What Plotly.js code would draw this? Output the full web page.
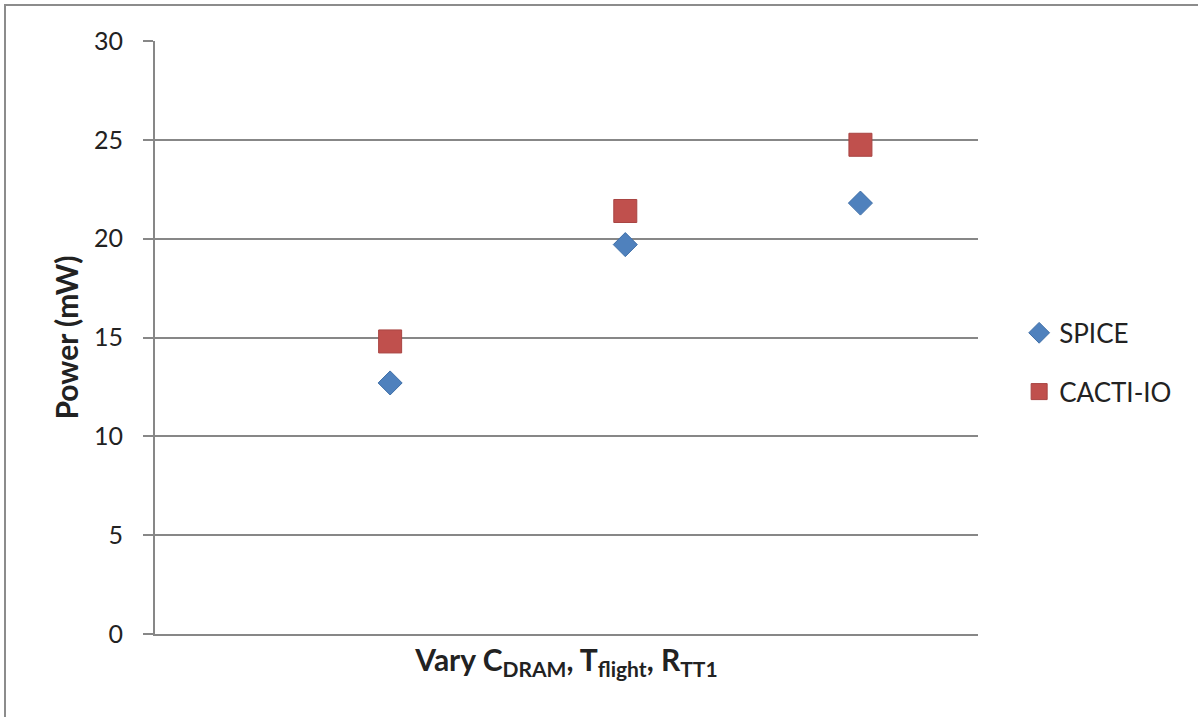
<!DOCTYPE html>
<html>
<head>
<meta charset="utf-8">
<script src="https://cdn.plot.ly/plotly-3.0.1.min.js"></script>
<style>
  html, body { margin: 0; padding: 0; background: #fff; }
  #wrap { position: relative; width: 1198px; height: 717px; overflow: hidden; }
  #chart { width: 1198px; height: 717px; }
  #frame { position: absolute; left: 4px; top: 4px; width: 1300px; height: 800px;
           border-top: 2px solid #8c8c8c; border-left: 2px solid #8c8c8c; pointer-events: none; }
</style>
</head>
<body>
<div id="wrap">
  <div id="chart"></div>
  <div id="frame"></div>
</div>
<script>
const categories = [1, 2, 3];
const seriesNames = ["SPICE", "CACTI-IO"];
const spiceValues = [12.7, 19.7, 21.8];
const cactiValues = [14.8, 21.4, 24.75];
const yTickValues = [0, 5, 10, 15, 20, 25, 30];

const fontFamily = "Lato, 'Open Sans', sans-serif";

const traces = [
  {
    x: categories, y: spiceValues, name: seriesNames[0], type: "scatter", mode: "markers",
    legendgroup: "a",
    marker: { symbol: "diamond", size: 18.5, color: "#4F81BD", line: { color: "#3f6fa8", width: 1 } }
  },
  {
    x: categories, y: cactiValues, name: seriesNames[1], type: "scatter", mode: "markers",
    legendgroup: "b",
    marker: { symbol: "square", size: 23, color: "#C0504D", line: { color: "#a84442", width: 1 } }
  }
];

const layout = {
  width: 1198, height: 717,
  margin: { l: 155, r: 220, t: 41, b: 83, pad: 0 },
  paper_bgcolor: "#ffffff", plot_bgcolor: "#ffffff",
  font: { family: fontFamily, size: 24, color: "#222" },
  showlegend: true,
  legend: {
    x: 1.05, y: 0.458, xanchor: "left", yanchor: "middle",
    traceorder: "grouped", tracegroupgap: 22,
    font: { family: fontFamily, size: 26, color: "#222" },
    itemwidth: 30
  },
  xaxis: {
    range: [0, 3.5], showgrid: false, zeroline: false,
    showticklabels: false, ticks: "",
    showline: true, linecolor: "#878787", linewidth: 2,
    title: { text: "<b>Vary C<sub>DRAM</sub>, T<sub>flight</sub>, R<sub>TT1</sub></b>",
             font: { family: fontFamily, size: 30, color: "#222" }, standoff: 15 }
  },
  yaxis: {
    range: [0, 30], tickvals: yTickValues, ticktext: yTickValues.map(String),
    showgrid: true, gridcolor: "#878787", gridwidth: 2, zeroline: false,
    showline: true, linecolor: "#878787", linewidth: 2,
    ticks: "outside", ticklen: 10, tickwidth: 2, tickcolor: "#878787",
    ticklabelstandoff: 15,
    tickfont: { family: fontFamily, size: 25, color: "#222" },
    automargin: true,
    title: { text: "<b>Power (mW)</b>", font: { family: fontFamily, size: 30, color: "#222" }, standoff: 6 }
  }
};

Plotly.newPlot("chart", traces, layout, { displayModeBar: false, staticPlot: true });
</script>
</body>
</html>
